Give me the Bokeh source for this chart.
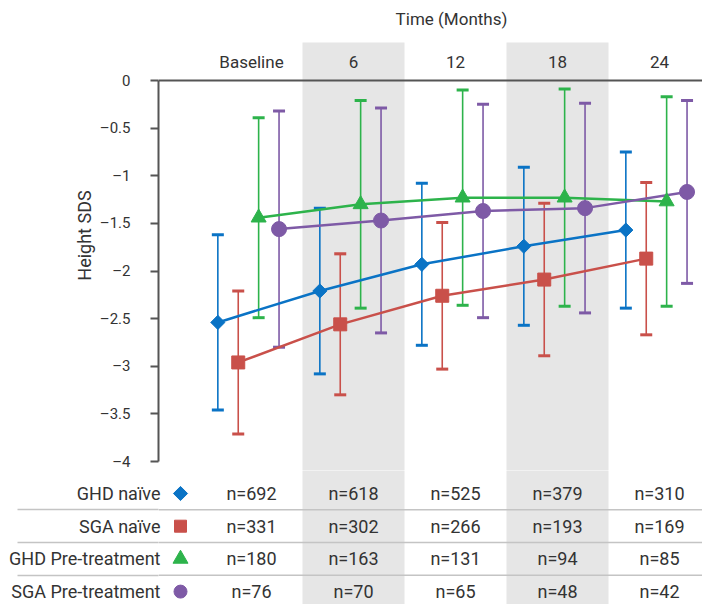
import numpy as np
from bokeh.plotting import figure
from bokeh.models import Range1d, FixedTicker, CustomJSTickFormatter, Span, Title
from bokeh.layouts import column
from bokeh.embed import file_html
from bokeh.resources import INLINE
from bokeh.core.properties import value

# ---------------- data ----------------
time_labels = ["Baseline", "6", "12", "18", "24"]
series_names = ["GHD naïve", "SGA naïve", "GHD Pre-treatment", "SGA Pre-treatment"]

ghd_naive_mean = [-2.54, -2.21, -1.93, -1.74, -1.57]
ghd_naive_sd = [0.92, 0.87, 0.85, 0.83, 0.82]
sga_naive_mean = [-2.96, -2.56, -2.26, -2.09, -1.87]
sga_naive_sd = [0.75, 0.74, 0.77, 0.80, 0.80]
ghd_pre_mean = [-1.44, -1.30, -1.23, -1.23, -1.27]
ghd_pre_sd = [1.05, 1.09, 1.13, 1.14, 1.10]
sga_pre_mean = [-1.56, -1.47, -1.37, -1.34, -1.17]
sga_pre_sd = [1.24, 1.18, 1.12, 1.10, 0.96]

ghd_naive_n = [692, 618, 525, 379, 310]
sga_naive_n = [331, 302, 266, 193, 169]
ghd_pre_n = [180, 163, 131, 94, 85]
sga_pre_n = [76, 70, 65, 48, 42]

y_ticks = [0, -0.5, -1, -1.5, -2, -2.5, -3, -3.5, -4]
band_cols = [1, 3]

means = [ghd_naive_mean, sga_naive_mean, ghd_pre_mean, sga_pre_mean]
sds = [ghd_naive_sd, sga_naive_sd, ghd_pre_sd, sga_pre_sd]
ns = [ghd_naive_n, sga_naive_n, ghd_pre_n, sga_pre_n]

# ---------------- style ----------------
colors = ["#0A73C5", "#C9504A", "#2DB34B", "#7E5AA6"]
markers = ["square", "square", "triangle", "circle"]
angles = [np.pi / 4, 0, 0, 0]
sizes = [10, 13, 15, 15]
leg_sizes = [10, 12, 15, 13]
offsets = [0.17, 0.37, 0.57, 0.77]
FONT = "Roboto"
TEXT = "#333333"
AXIS = "#555555"
BAND = "#E6E6E6"
RULE = "#C4C4C4"

# page geometry helpers
COL0, COLW = 200.0, 102.0
def px2x(px):
    return (px - COL0) / COLW
Y0PX, UNIT = 80.0, 95.25
def py2y(py):
    return (Y0PX - py) / UNIT

W = 702
LEFT = 158
MAIN_H = 470
TOTAL_H = 604

# ---------------- main figure ----------------
p = figure(width=W, height=MAIN_H, output_backend="svg", toolbar_location=None,
           x_range=Range1d(px2x(LEFT), px2x(W)),
           y_range=Range1d(py2y(MAIN_H), py2y(0)),
           x_axis_location=None, min_border_left=LEFT, min_border_right=0,
           min_border_top=0, min_border_bottom=0)
p.outline_line_color = None
p.xgrid.visible = False
p.ygrid.visible = False

bx = np.array(band_cols)
p.quad(left=bx, right=bx + 1, bottom=py2y(490), top=py2y(42),
       fill_color=BAND, line_color=None)

# header
p.text(x=np.arange(len(time_labels)) + 0.5, y=[py2y(61)] * len(time_labels),
       text=time_labels, text_align="center", text_baseline="middle",
       text_font=value(FONT), text_font_size="17px", text_color=TEXT)
p.text(x=[px2x(451)], y=[py2y(18)], text=["Time (Months)"],
       text_align="center", text_baseline="middle",
       text_font=value(FONT), text_font_size="17px", text_color=TEXT)

p.add_layout(Span(location=0, dimension="width", line_color=AXIS, line_width=2))

# y axis
ax = p.yaxis[0]
ax.ticker = FixedTicker(ticks=y_ticks)
ax.bounds = (-4, 0)
ax.formatter = CustomJSTickFormatter(code="return tick == 0 ? '0' : '\u2013' + Math.abs(tick);")
ax.axis_line_color = AXIS
ax.axis_line_width = 2
ax.major_tick_line_color = AXIS
ax.major_tick_line_width = 2
ax.major_tick_out = 8
ax.major_tick_in = 0
ax.minor_tick_line_color = None
ax.minor_tick_out = 0
ax.major_label_standoff = 20
ax.major_label_text_font = FONT
ax.major_label_text_font_size = "15px"
ax.major_label_text_color = TEXT

p.add_layout(Title(text="Height SDS", align="center", text_font=FONT,
                   text_font_size="18px", text_font_style="normal",
                   text_color=TEXT, standoff=4), "left")

xs_list = [np.arange(5) + off for off in offsets]
# error bars
for xs, m, s, c in zip(xs_list, means, sds, colors):
    m = np.array(m); s = np.array(s)
    p.segment(x0=xs, y0=m - s, x1=xs, y1=m + s, line_color=c, line_width=1.6)
    p.scatter(x=xs, y=m - s, marker="dash", size=12, line_width=3, line_color=c)
    p.scatter(x=xs, y=m + s, marker="dash", size=12, line_width=3, line_color=c)
# lines
for xs, m, c in zip(xs_list, means, colors):
    p.line(x=xs, y=m, line_color=c, line_width=2.5)
# markers
for xs, m, c, mk, sz, an in zip(xs_list, means, colors, markers, sizes, angles):
    p.scatter(x=xs, y=m, marker=mk, size=sz, angle=an, fill_color=c, line_color=c)

# ---------------- table figure ----------------
ROW0, ROWH = 493.0, 32.7
RULE_LEN = LEFT - 17
t = figure(width=W, height=TOTAL_H - MAIN_H, output_backend="svg", toolbar_location=None,
           x_range=p.x_range,
           y_range=Range1d((TOTAL_H - ROW0) / ROWH, (MAIN_H - ROW0) / ROWH),
           x_axis_location=None, y_axis_location="left",
           min_border_left=LEFT, min_border_right=0, min_border_top=0, min_border_bottom=0)
t.outline_line_color = None
t.xgrid.visible = False
t.ygrid.visible = False
t.quad(left=bx, right=bx + 1, bottom=6, top=-2, fill_color=BAND, line_color=None)

rows = list(range(len(series_names)))
seps = [r + 0.5 for r in rows[:-1]]
tax = t.yaxis[0]
tax.ticker = FixedTicker(ticks=rows, minor_ticks=seps)
tax.major_label_overrides = {r: name for r, name in zip(rows, series_names)}
tax.axis_line_color = None
tax.major_tick_line_color = None
tax.major_tick_out = 0
tax.major_tick_in = 0
tax.minor_tick_line_color = RULE
tax.minor_tick_line_width = 1.5
tax.minor_tick_out = RULE_LEN
tax.minor_tick_in = 0
tax.major_label_standoff = -RULE_LEN - 2
tax.major_label_text_font = FONT
tax.major_label_text_font_size = "18px"
tax.major_label_text_color = TEXT

t.segment(x0=[px2x(LEFT)] * len(seps), y0=seps, x1=[px2x(W + 10)] * len(seps), y1=seps,
          line_color=RULE, line_width=1.5)
for r, c, mk, sz, an in zip(rows, colors, markers, leg_sizes, angles):
    t.scatter(x=[px2x(180)], y=[r], marker=mk, size=sz, angle=an, fill_color=c, line_color=c)
for r, nvals in zip(rows, ns):
    t.text(x=np.arange(len(nvals)) + 0.5, y=[r] * len(nvals),
           text=[f"n={n}" for n in nvals], text_align="center", text_baseline="middle",
           text_font=value(FONT), text_font_size="18px", text_color=TEXT)

layout = column(p, t, spacing=0)
open("out.html", "w").write(file_html(layout, INLINE))
